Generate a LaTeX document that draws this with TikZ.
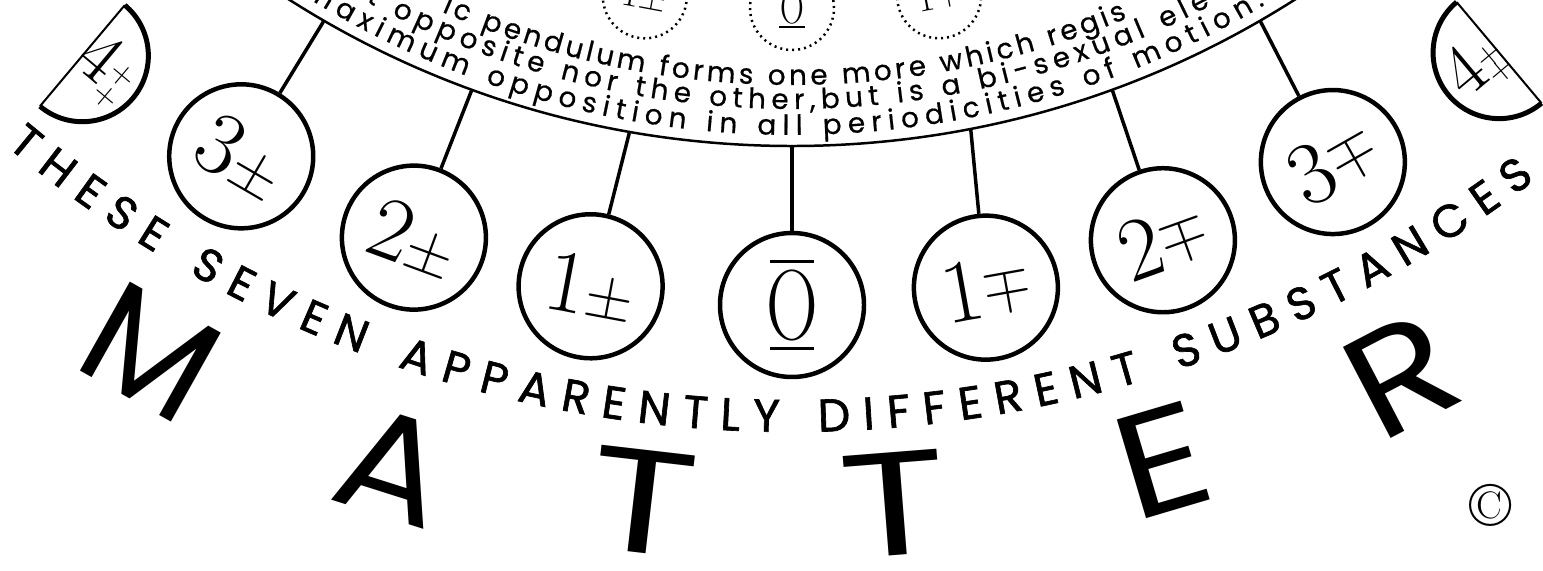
\documentclass[tikz,border=0pt]{standalone}
\usepackage{fontspec}
\usepackage{graphicx}
\usetikzlibrary{decorations.text}
\newfontfamily\geo{Poppins}
\newfontfamily\geoi{Poppins}[FakeBold=0.6]
\newfontfamily\geob{Poppins}[FakeBold=1.4]
\newcommand\innerfont{\geoi\fontsize{28}{28}\selectfont}
\newcommand\outerfont{\geob\fontsize{46}{46}\selectfont}
\newcommand\bigfont{\geo\fontsize{148}{148}\selectfont}
\newcommand\digfont{\fontsize{90}{90}\selectfont}
\newcommand\sgnfont{\fontsize{66}{66}\selectfont}
\newcommand\pmsign{±}
\newcommand\mpsign{\rotatebox[origin=c]{180}{±}}
\newcommand\lbl[2]{{\digfont #1}{\sgnfont #2}}
\newcommand\slbl[2]{{\fontsize{38}{38}\selectfont #1#2}}
\newcommand\barO[4]{\vbox{\offinterlineskip\halign{\hfil##\hfil\cr
  \rule{#2}{#3}\cr\noalign{\kern#4}
  \fontsize{#1}{#1}\selectfont\scalebox{0.72}[1]{O}\cr\noalign{\kern#4}
  \rule{#2}{#3}\cr}}}
\newcommand\fourlbl[1]{{\fontsize{74}{74}\selectfont 4}\raisebox{2bp}{\fontsize{34}{34}\selectfont\begin{tabular}{@{}c@{}}+\\[#1]+\end{tabular}}}
\newcommand\wide[2]{\scalebox{#1}[1]{#2}}
\begin{document}
\begin{tikzpicture}[x=1bp,y=1bp,
  ring/.style={circle,draw,line width=4.5,minimum size=144bp,inner sep=0},
  conn/.style={line width=3.5},
  dring/.style={circle,draw,line width=2.5,dash pattern=on 2bp off 4bp,minimum size=84bp,inner sep=0},
  arctext/.style={decorate,decoration={text along path,text={#1},text align=fit to path}},
  bigletter/.style={font=\bigfont,inner sep=0},
  halfarc/.style={line width=5},
  halfchord/.style={line width=2}]
\useasboundingbox (0,0) rectangle (1543,-571);
\clip (0,0) rectangle (1543,-571);
\coordinate (C) at (792,790);

% inner disc
\node[circle,draw,line width=2.5,minimum size=1872bp,inner sep=0] (disc) at (C) {};

% inner dashed circles
\node[dring,rotate=-10.6] (d1) at ([shift={(-100.6:800)}]C) {\slbl{1}{\pmsign}};
\node[dring] (d0) at ([shift={(-90:798)}]C) {\barO{46}{26bp}{1.5bp}{2bp}};
\node[dring,rotate=10.6] (d2) at ([shift={(-79.4:800)}]C) {\slbl{1}{\mpsign}};

% curved text inside the disc
\path[arctext={|\innerfont|ic pendulum forms one more which regis}]
  ([shift={(-113.6:875)}]C) arc[start angle=-113.6,end angle=-67.5,radius=875];
\path[arctext={|\innerfont|t opposite nor the other,but is a bi-sexual ele}]
  ([shift={(-118.3:899)}]C) arc[start angle=-118.3,end angle=-62.3,radius=899];
\path[arctext={|\innerfont|maximum opposition in all periodicities of motion.}]
  ([shift={(-121.9:925)}]C) arc[start angle=-121.9,end angle=-59.3,radius=925];

% seven substances
\node[ring,rotate=-30.2] (s1) at ([shift={(-120.2:1095)}]C) {\lbl{3}{\pmsign}};
\node[ring,rotate=-20.2] (s2) at ([shift={(-110.2:1095)}]C) {\lbl{2}{\pmsign}};
\node[ring,rotate=-10.6] (s3) at ([shift={(-100.6:1095)}]C) {\lbl{1}{\pmsign}};
\node[ring] (s4) at ([shift={(-90:1095)}]C) {\barO{100}{44bp}{3.5bp}{6bp}};
\node[ring,rotate=10.2] (s5) at ([shift={(-79.8:1095)}]C) {\lbl{1}{\mpsign}};
\node[ring,rotate=19.8] (s6) at ([shift={(-70.2:1095)}]C) {\lbl{2}{\mpsign}};
\node[ring,rotate=29.6] (s7) at ([shift={(-60.4:1095)}]C) {\lbl{3}{\mpsign}};
\foreach \i/\a in {1/-120.2,2/-110.2,3/-100.6,4/-90,5/-79.8,6/-70.2,7/-60.4}
  \draw[conn] (disc.\a) -- (s\i);

% half discs (4)
\coordinate (h1) at ([shift={(-130:1104)}]C);
\draw[halfarc] ([shift={(50:66)}]h1) arc[start angle=50,end angle=-130,radius=66];
\draw[halfchord] ([shift={(50:66)}]h1) -- ([shift={(-130:66)}]h1);
\node[rotate=-40,inner sep=0] (q1) at ([shift={(-40:27)}]h1) {\fourlbl{-6bp}};
\coordinate (h2) at ([shift={(-50:1100)}]C);
\draw[halfarc] ([shift={(130:66)}]h2) arc[start angle=130,end angle=310,radius=66];
\draw[halfchord] ([shift={(130:66)}]h2) -- ([shift={(-50:66)}]h2);
\node[rotate=40,inner sep=0] (q2) at ([shift={(-140:27)}]h2) {\fourlbl{-15bp}};

% outer text
\path[arctext={|\outerfont|THESE SEVEN APPARENTLY DIFFERENT SUBSTANCES}]
  ([shift={(-130:1222)}]C) arc[start angle=-130,end angle=-52.6,radius=1222];

% MATTER
\node[bigletter,rotate=-29.3] (mM) at ([shift={(-119.3:1310)}]C) {M};
\node[bigletter,rotate=-17.6] (mA) at ([shift={(-107.6:1318)}]C) {\wide{1.08}{A}};
\node[bigletter,rotate=-6.6] (mT1) at ([shift={(-96.6:1300)}]C) {\wide{1.35}{T}};
\node[bigletter,rotate=4.5] (mT2) at ([shift={(-85.5:1298)}]C) {\wide{1.35}{T}};
\node[bigletter,rotate=16.5] (mE) at ([shift={(-73.5:1304)}]C) {\wide{1.2}{E}};
\node[bigletter,rotate=27.6] (mR) at ([shift={(-62.4:1315)}]C) {\wide{1.15}{R}};
\node[inner sep=0] (copy) at (1491,-505) {\fontsize{62}{62}\selectfont\textcopyright};
\end{tikzpicture}
\end{document}
